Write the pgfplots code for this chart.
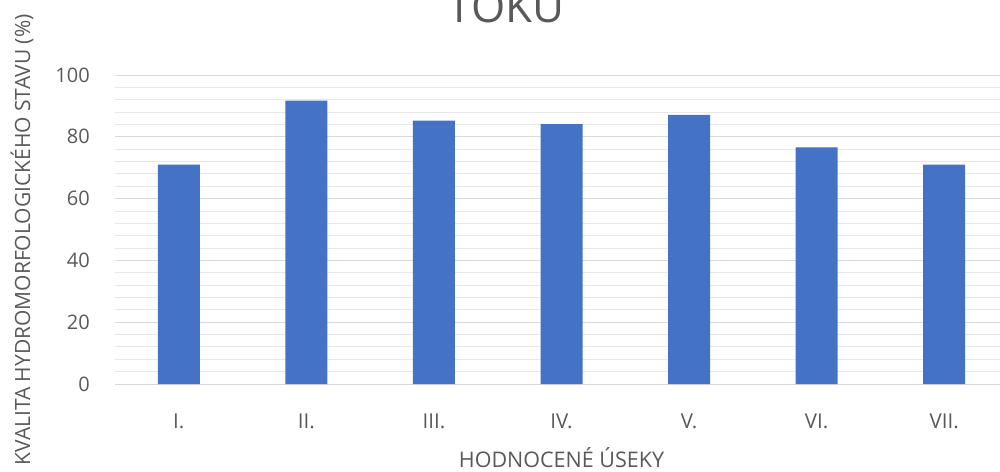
\documentclass[border=0pt]{standalone}
\usepackage{fontspec}
\setmainfont{Open Sans}
\usepackage{pgfplots}
\pgfplotsset{compat=1.18}
\definecolor{barblue}{HTML}{4472C4}
\definecolor{txt}{HTML}{595959}
\definecolor{majgrid}{HTML}{D9D9D9}
\definecolor{mingrid}{HTML}{E8E8E8}
\begin{document}
\begin{tikzpicture}[x=1pt,y=1pt]
\path[use as bounding box] (0,0) rectangle (1000,-471);
\clip (0,0) rectangle (1000,-471);
\begin{axis}[
  at={(115pt,-384pt)}, anchor=south west,
  scale only axis, width=893pt, height=309pt,
  xmin=-0.5, xmax=6.5, ymin=0, ymax=100,
  ytick={0,20,...,100}, minor y tick num=4,
  ymajorgrids, yminorgrids,
  major grid style={draw=majgrid, line width=1pt},
  minor grid style={draw=mingrid, line width=0.9pt},
  axis line style={draw=none},
  major tick length=0pt, minor tick length=0pt,
  xtick={0,1,2,3,4,5,6},
  xticklabels={I.,II.,III.,IV.,V.,VI.,VII.},
  /pgf/number format/assume math mode=true,
  yticklabel style={font=\fontsize{20}{24}\selectfont, text=txt, anchor=east, inner sep=0pt, xshift=-25pt},
  xticklabel style={font=\fontsize{20.5}{24}\selectfont, text=txt, anchor=center, inner sep=0pt, yshift=-37pt},
  xlabel={HODNOCENÉ ÚSEKY},
  ylabel={KVALITA HYDROMORFOLOGICKÉHO STAVU (\%)},
  xlabel style={font=\fontsize{21.5}{24}\selectfont, text=txt, inner sep=0pt, at={(axis description cs:0.5,-0.270)}, anchor=base},
  ylabel style={font=\fontsize{21}{24}\selectfont, text=txt, at={(axis description cs:-0.104,0.466)}, anchor=center},
  title={TOKU},
  title style={font=\fontsize{44}{50}\selectfont, text=txt, at={(axis description cs:0.438,1.202)}, anchor=center},
  ybar, bar width=42pt,
]
\addplot[fill=barblue, draw=none] coordinates {(0,71) (1,91.7) (2,85.2) (3,84.1) (4,87.1) (5,76.6) (6,71)};
\end{axis}
\end{tikzpicture}
\end{document}
